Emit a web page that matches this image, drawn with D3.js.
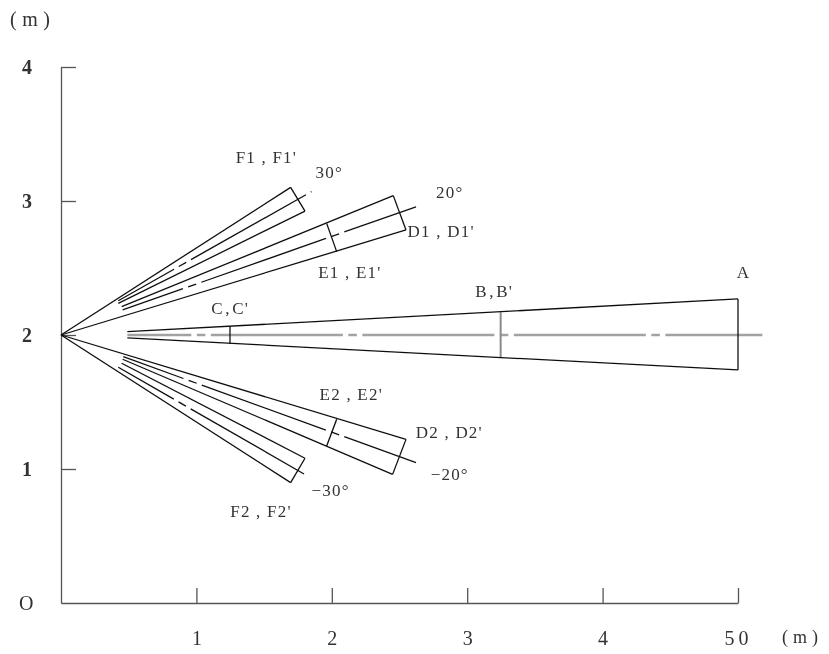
<!DOCTYPE html>
<html>
<head>
<meta charset="utf-8">
<script src="https://cdn.jsdelivr.net/npm/d3@7"></script>
<style>
  html, body { margin: 0; padding: 0; background: #fff; }
  text { font-family: "Liberation Serif", serif; fill: #333; }
</style>
</head>
<body>
<svg id="chart" width="829" height="654"></svg>
<script>
// values, in metres, each line is [x0, y0, x1, y1]
const xTicks = [1, 2, 3, 4, 5]
const xTickLabels = ['1', '2', '3', '4', '50']
const yTicks = [1, 2, 3, 4]

const beamEdges = [
  [0.49, 2.025, 5, 2.269], // A top
  [0.49, 1.978, 5, 1.739], // A bottom
  [5, 2.269, 5, 1.739],
  [0, 2, 1.696, 3.102], // F1
  [0.423, 2.236, 1.802, 2.925],
  [1.696, 3.102, 1.802, 2.925],
  [0.448, 2.211, 2.454, 3.04], // D1
  [0, 2, 2.548, 2.784],
  [2.454, 3.04, 2.548, 2.784],
  [1.962, 2.833, 2.036, 2.622], // E1
  [0, 2, 2.548, 1.221], // D2
  [0.455, 1.819, 2.449, 0.96],
  [2.548, 1.221, 2.449, 0.96],
  [2.036, 1.371, 1.962, 1.172], // E2
  [0, 2, 1.696, 0.898], // F2
  [0.448, 1.789, 1.802, 1.08],
  [1.802, 1.08, 1.696, 0.898],
  [1.248, 2.067, 1.248, 1.933], // C
]
const grayCross = [[3.247, 2.17, 3.247, 1.836]] // B
const grayCenter = [[0.49, 2, 5.18, 2]]
const centerLines = [
  [0.423, 2.256, 1.85, 3.07],
  [0.455, 2.187, 2.622, 2.957],
  [0.46, 1.838, 2.622, 1.047],
  [0.423, 1.759, 1.795, 0.963],
]

const labelTexts = ["F1,F1'", '30°', '20°', "D1,D1'", "E1,E1'", "C,C'", "B,B'", 'A', "E2,E2'", "D2,D2'", '−20°', '−30°', "F2,F2'"]
const labelX = [1.29, 1.88, 2.77, 2.56, 1.90, 1.11, 3.06, 4.99, 1.91, 2.62, 2.73, 1.85, 1.25]
const labelY = [3.285, 3.175, 3.025, 2.735, 2.425, 2.155, 2.285, 2.425, 1.515, 1.235, 0.915, 0.795, 0.645]

const svg = d3.select('#chart')
const x = d3.scaleLinear().domain([0, 5]).range([61, 738])
const y = d3.scaleLinear().domain([0, 4]).range([603, 67])

// the reference is a soft scan, so everything gets a small blur
svg.append('defs').append('filter').attr('id', 'soft')
  .append('feGaussianBlur').attr('stdDeviation', 0.5)

const root = svg.append('g').attr('filter', 'url(#soft)')

const xAxis = d3.axisBottom(x)
  .tickValues(xTicks)
  .tickSizeInner(-15)
  .tickSizeOuter(0)
  .tickPadding(28)
  .tickFormat((d, i) => xTickLabels[i])
const yAxis = d3.axisLeft(y)
  .tickValues(yTicks)
  .tickSizeInner(-15)
  .tickSizeOuter(0)
  .tickPadding(29)
  .tickFormat(d3.format('d'))

const xG = root.append('g').attr('transform', `translate(0,${y(0)})`).call(xAxis)
const yG = root.append('g').attr('transform', `translate(${x(0)},0)`).call(yAxis)
root.selectAll('.domain, .tick line').attr('stroke', '#555').attr('stroke-width', 1.3)
root.selectAll('.tick text').style('font-family', '"Liberation Serif", serif').style('font-size', '20px').attr('fill', '#333')
xG.selectAll('.tick text').filter((d) => d === 5).style('letter-spacing', '4px')
yG.selectAll('.tick text').style('font-weight', 'bold').attr('dy', '0.3em')

function drawLines(rows, stroke, width, dash, offset) {
  root.append('g').selectAll('line').data(rows).enter()
    .append('line')
    .attr('x1', (d) => x(d[0]))
    .attr('y1', (d) => y(d[1]))
    .attr('x2', (d) => x(d[2]))
    .attr('y2', (d) => y(d[3]))
    .attr('stroke', stroke)
    .attr('stroke-width', width)
    .attr('stroke-dasharray', dash)
    .attr('stroke-dashoffset', offset)
}

// long, gap, short, gap: same chain line for every beam axis
const chain = '132 5.5 8.5 5.5'
drawLines(grayCenter, '#a2a2a2', 2.6, chain, 68)
drawLines(grayCross, '#8a8a8a', 2, null, null)
drawLines(beamEdges, '#111', 1.3, null, null)
drawLines(centerLines, '#111', 1.3, chain, 68)

// labels, the comma sits wide apart from its neighbours in the reference
root.append('g').selectAll('text').data(labelTexts).enter()
  .append('text')
  .attr('x', (d, i) => x(labelX[i]))
  .attr('y', (d, i) => y(labelY[i]))
  .attr('font-size', 17)
  .attr('letter-spacing', 1.2)
  .each(function (d) {
    const parts = d.split(',')
    const t = d3.select(this)
    if (parts.length < 2) {
      t.text(d)
      return
    }
    const gap = parts[0].length > 1 ? 5.5 : 1.5
    t.append('tspan').text(parts[0])
    t.append('tspan').attr('dx', gap).text(',')
    t.append('tspan').attr('dx', gap).text(parts[1])
  })

// axis origin and unit labels
root.append('text').attr('x', x(0) - 42).attr('y', y(0) + 7).attr('font-size', 20).text('O')
root.append('text').attr('x', 10).attr('y', 26).attr('font-size', 20)
  .attr('letter-spacing', 5.5).text('(m)')
root.append('text').attr('x', 782).attr('y', 643).attr('font-size', 18)
  .attr('letter-spacing', 5).text('(m)')
</script>
</body>
</html>
